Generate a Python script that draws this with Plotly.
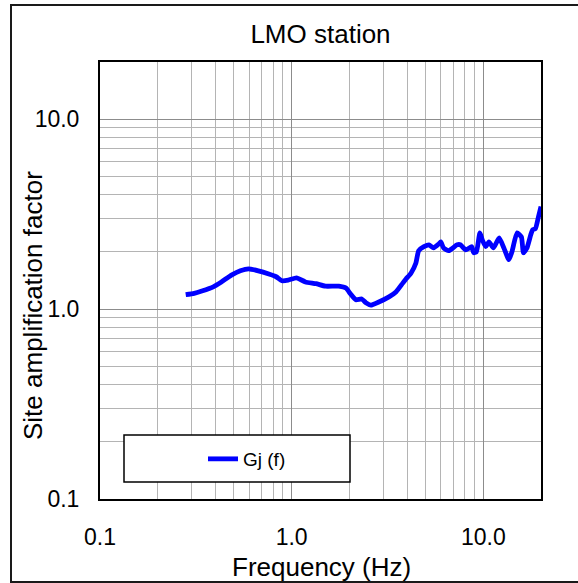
import math
import plotly.graph_objects as go

# Site amplification spectrum for the LMO station
freq_hz = [0.28, 0.31, 0.34, 0.39, 0.43, 0.485, 0.54, 0.595, 0.67, 0.76, 0.83,
           0.89, 0.96, 1.06, 1.18, 1.34, 1.5, 1.76, 1.92, 2.03, 2.16, 2.32,
           2.44, 2.59, 2.85, 3.22, 3.5, 3.8, 3.95, 4.2, 4.45, 4.6, 4.9, 5.2,
           5.5, 5.85, 6.0, 6.2, 6.6, 7.3, 7.6, 8.1, 8.7, 8.9, 9.2, 9.6, 9.9,
           10.3, 10.7, 11.3, 12.1, 12.8, 13.6, 14.1, 15.0, 15.8, 16.2, 16.9,
           17.7, 18.1, 18.7, 19.4, 20.0]
gj_f = [1.19, 1.21, 1.245, 1.31, 1.39, 1.51, 1.59, 1.63, 1.59, 1.53, 1.48,
        1.41, 1.42, 1.46, 1.39, 1.36, 1.32, 1.32, 1.29, 1.2, 1.12, 1.13,
        1.08, 1.05, 1.09, 1.16, 1.23, 1.37, 1.44, 1.55, 1.75, 2.03, 2.13, 2.18,
        2.1, 2.2, 2.26, 2.1, 2.03, 2.18, 2.18, 2.05, 2.13, 1.98, 2.0, 2.52, 2.3,
        2.13, 2.26, 2.1, 2.37, 2.1, 1.82, 2.0, 2.52, 2.4, 1.98, 2.1,
        2.47, 2.62, 2.65, 3.06, 3.47]

major_vals = [0.1, 1.0, 10.0]
major_text = ["0.1", "1.0", "10.0"]
minor_vals = [m * d for d in (0.1, 1.0) for m in range(2, 10)]

FONT = "Liberation Sans, Arial, sans-serif"
W, H = 578, 583
ML, MR, MT, MB = 100, 37, 62, 84
PW, PH = W - ML - MR, H - MT - MB


def px_x(px):
    return (px - ML) / PW


def px_y(py):
    return (H - MB - py) / PH


fig = go.Figure()
fig.add_trace(go.Scatter(
    x=freq_hz, y=gj_f, mode="lines", name="Gj (f)",
    line=dict(color="#0000FF", width=4.8, shape="spline", smoothing=0.5),
))

axis_common = dict(
    type="log",
    range=[-1, math.log10(20)],
    tickvals=major_vals,
    ticktext=major_text,
    ticks="",
    showgrid=True,
    gridcolor="#8c8c8c",
    gridwidth=1,
    minor=dict(tickvals=minor_vals, showgrid=True, gridcolor="#b4b4b4",
               gridwidth=1, ticks=""),
    showline=True,
    mirror=True,
    linecolor="#000000",
    linewidth=2,
    zeroline=False,
    tickfont=dict(family=FONT, size=23, color="#000000"),
)

fig.update_xaxes(**axis_common, ticklabelstandoff=16)
fig.update_yaxes(**axis_common, ticklabelstandoff=14)

fig.update_layout(
    width=W, height=H,
    margin=dict(l=ML, r=MR, t=MT, b=MB, autoexpand=False),
    paper_bgcolor="#ffffff",
    plot_bgcolor="#ffffff",
    title=dict(text="LMO station", x=0.5, xref="paper", xanchor="center",
               y=1 - 34 / H, yanchor="middle", yref="container",
               font=dict(family=FONT, size=26, color="#000000")),
    showlegend=True,
    legend=dict(x=px_x(203), y=px_y(459), xanchor="left", yanchor="middle",
                bgcolor="rgba(0,0,0,0)", borderwidth=0,
                font=dict(family=FONT, size=19, color="#000000")),
    annotations=[
        dict(text="Frequency (Hz)", xref="paper", yref="paper",
             x=px_x(321), y=px_y(567), xanchor="center", yanchor="middle",
             showarrow=False, font=dict(family=FONT, size=26, color="#000000")),
        dict(text="Site amplification factor", xref="paper", yref="paper",
             x=px_x(33), y=px_y(306), xanchor="center", yanchor="middle",
             textangle=-90, showarrow=False,
             font=dict(family=FONT, size=26, color="#000000")),
    ],
    shapes=[
        # legend frame
        dict(type="rect", xref="paper", yref="paper",
             x0=px_x(124), x1=px_x(350), y0=px_y(482), y1=px_y(435),
             fillcolor="#ffffff", line=dict(color="#000000", width=1.5),
             layer="above"),
        # chart area frame
        dict(type="rect", xref="paper", yref="paper",
             x0=px_x(11), x1=px_x(590), y0=px_y(582), y1=px_y(5),
             fillcolor="rgba(0,0,0,0)", line=dict(color="#1a1a1a", width=2),
             layer="above"),
    ],
)

fig.write_html("out.html")
